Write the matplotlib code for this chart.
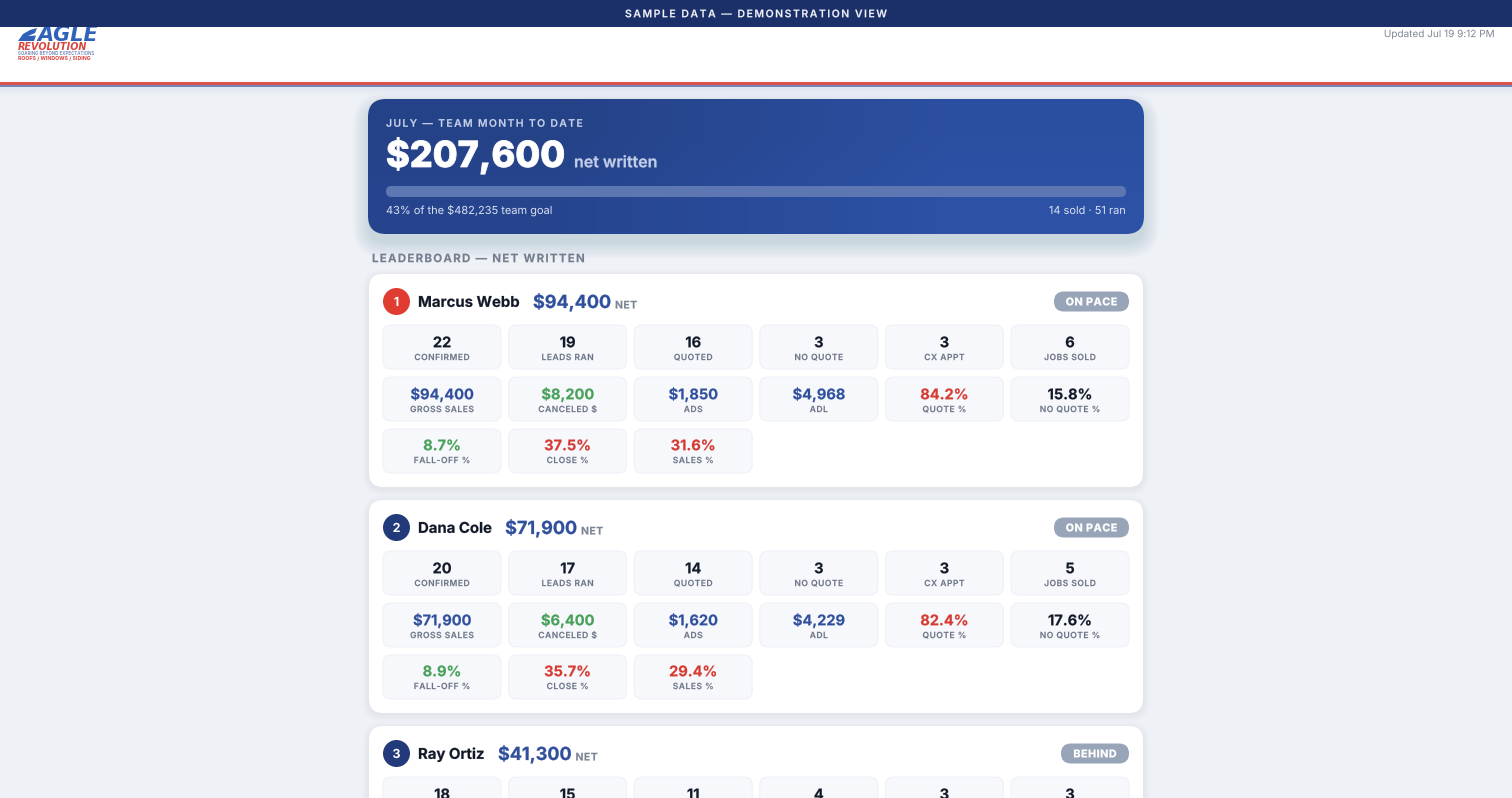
import numpy as np
import matplotlib
matplotlib.use("Agg")
import matplotlib.pyplot as plt
import matplotlib.patheffects as pe
from matplotlib.patches import FancyBboxPatch, Rectangle, Circle, Polygon
from matplotlib.font_manager import FontProperties
from matplotlib.textpath import text_to_path

plt.rcParams['font.family'] = ['Inter', 'DejaVu Sans']

# data
rep_names = ["Marcus Webb", "Dana Cole", "Ray Ortiz"]
rep_net = ["$94,400", "$71,900", "$41,300"]
rep_status = ["ON PACE", "ON PACE", "BEHIND"]

count_labels = ["CONFIRMED", "LEADS RAN", "QUOTED", "NO QUOTE", "CX APPT", "JOBS SOLD"]
money_labels = ["GROSS SALES", "CANCELED $", "ADS", "ADL", "QUOTE %", "NO QUOTE %"]
rate_labels = ["FALL-OFF %", "CLOSE %", "SALES %"]

rep_counts = [
    ["22", "19", "16", "3", "3", "6"],
    ["20", "17", "14", "3", "3", "5"],
    ["18", "15", "11", "4", "3", "3"],
]
rep_money = [
    ["$94,400", "$8,200", "$1,850", "$4,968", "84.2%", "15.8%"],
    ["$71,900", "$6,400", "$1,620", "$4,229", "82.4%", "17.6%"],
]
rep_rates = [
    ["8.7%", "37.5%", "31.6%"],
    ["8.9%", "35.7%", "29.4%"],
]

NAVY = "#1b2f69"
BLUE = "#2f4f9d"
GREEN = "#46a058"
RED = "#d5392f"
INK = "#111827"
money_colors = [BLUE, GREEN, BLUE, BLUE, RED, INK]
rate_colors = [GREEN, RED, RED]

fig = plt.figure(figsize=(15.12, 7.98), dpi=100, facecolor="#eef1f6")
ax = fig.add_axes([0, 0, 1, 1])
ax.set_xlim(0, 1512)
ax.set_ylim(798, 0)
ax.axis('off')


class Soft(pe.AbstractPathEffect):
    # draws glyphs as unsnapped paths, otherwise T, H, L, E come out thinner
    def __init__(self, lw=0.0):
        super().__init__()
        self.lw = lw

    def draw_path(self, renderer, gc, tpath, affine, rgbFace):
        g = renderer.new_gc()
        g.copy_properties(gc)
        g.set_snap(False)
        g.set_linewidth(self.lw)
        g.set_foreground(rgbFace)
        renderer.draw_path(g, tpath, affine, rgbFace)
        g.restore()


def rbox(x0, y0, x1, y1, r, **kw):
    p = FancyBboxPatch((x0 + r, y0 + r), x1 - x0 - 2 * r, y1 - y0 - 2 * r,
                       boxstyle="round,pad=%f,rounding_size=%f" % (r, r), **kw)
    ax.add_patch(p)
    return p


def shadow(x0, y0, x1, y1, r, spread, dy, color, alpha, z):
    for s in np.linspace(spread, 0, 12):
        rbox(x0 - s, y0 - s + dy, x1 + s, y1 + s + dy, r + s, fc=color,
             ec="none", alpha=alpha, zorder=z)


def spaced(x, y, s, size, spacing, color, weight, ha="left", z=10, stroke=0.1):
    # css style letter spacing, mpl has no option for it. y is the middle of the caps
    prop = FontProperties(family="Inter", weight=weight, size=size * 0.72)
    def w(t):
        return text_to_path.get_text_width_height_descent(t, prop, False)[0] * 100 / 72
    total = w(s) + spacing * (len(s) - 1)
    start = x - total / 2 if ha == "center" else x
    for i, ch in enumerate(s):
        if ch != " ":
            ax.text(start + w(s[:i]) + spacing * i, y + 0.36 * size, ch, fontproperties=prop,
                    color=color, va="baseline", ha="left", zorder=z,
                    path_effects=[Soft(stroke)])


def label(x, y, s, size, color, weight=400, ha="left", z=10, stroke=0.0):
    return ax.text(x, y + 0.36 * size, s, fontsize=size * 0.72, color=color, fontweight=weight,
                   ha=ha, va="baseline", zorder=z, path_effects=[Soft(stroke)])


# page header
ax.add_patch(Rectangle((0, 27), 1512, 55, fc="white", ec="none", zorder=1))
ax.imshow(np.array([[[0.886, 0.906, 0.945, 1]], [[0.933, 0.945, 0.965, 1]]]),
          extent=[0, 1512, 98, 86], aspect="auto", zorder=0.5, interpolation="bilinear")
ax.add_patch(Rectangle((0, 82), 1512, 3, fc="#d9504f", ec="none", zorder=2))
ax.add_patch(Rectangle((0, 85), 1512, 1.6, fc="#7584b8", ec="none", zorder=2))
ax.add_patch(Rectangle((0, 0), 1512, 27, fc=NAVY, ec="none", zorder=20))
spaced(756, 13.5, "SAMPLE DATA — DEMONSTRATION VIEW", 10.5, 1.5, "#f2f4fa", 600, ha="center", z=21)
label(1494, 33.5, "Updated Jul 19 9:12 PM", 10, "#7f8794", ha="right", z=3)

# logo, top is cut by the banner
ax.add_patch(Polygon([[18, 41], [23, 34], [30, 30], [37, 28], [35, 33], [28, 36], [36, 35.5], [34, 41]],
                     fc="#2f62b8", ec="none", zorder=3))
ax.text(37, 41, "AGLE", fontsize=15, fontstyle="oblique", fontweight="bold", color="#2f62b8",
        family="DejaVu Sans", ha="left", va="baseline", zorder=3)
ax.text(18, 50, "REVOLUTION", fontsize=6.9, fontstyle="oblique", fontweight="bold", color="#d8453f",
        family="DejaVu Sans", ha="left", va="baseline", zorder=3)
ax.text(18, 55, "SOARING BEYOND EXPECTATIONS", fontsize=3.2, fontweight=600, color="#6f83b5",
        ha="left", va="baseline", zorder=3)
ax.text(18, 60, "ROOFS / WINDOWS / SIDING", fontsize=3.75, fontweight=700, color="#d8453f",
        ha="left", va="baseline", zorder=3)

# hero card
shadow(368, 99, 1144, 234, 18, 15, 9, "#23427f", 0.010, 3)
hero_patch = rbox(368, 99, 1144, 234, 18, fc="none", ec="none", zorder=4)
grad = np.array([[[0.145, 0.26, 0.53], [0.17, 0.31, 0.63]],
                 [[0.15, 0.27, 0.56], [0.175, 0.32, 0.65]]])
im = ax.imshow(grad, extent=[368, 1144, 234, 99], aspect="auto", zorder=4, interpolation="bilinear")
im.set_clip_path(hero_patch)
ax.set_xlim(0, 1512)
ax.set_ylim(798, 0)

spaced(386, 123, "JULY — TEAM MONTH TO DATE", 10.5, 1.3, "#c9d4ec", 600)
label(386, 154, "$207,600", 36, "white", 800, stroke=0.6)
label(574, 161.5, "net written", 16, "#c3cfe8", 600, stroke=0.2)
rbox(386, 186, 1126, 197, 5.5, fc="#5c77b2", ec="none", zorder=5)
label(386, 210, "43% of the $482,235 team goal", 11, "#dbe3f3")
label(1126, 210, "14 sold · 51 ran", 11, "#dbe3f3", ha="right")

spaced(372, 258, "LEADERBOARD — NET WRITTEN", 11.5, 1.25, "#737c8d", 700, z=5)

# leaderboard cards
tile_x = [383, 508.6, 634.2, 759.8, 885.4, 1011]
tile_w = 118
row_off = [51, 103, 155]
val_off = [17, 17, 16]
lab_off = [32, 32, 31]
for n, name in enumerate(rep_names):
    top = 274 + 226 * n
    shadow(369, top, 1143, top + 213, 14, 7, 2, "#5a6a90", 0.005, 5)
    rbox(369, top, 1143, top + 213, 14, fc="white", ec="none", zorder=6)

    cy = top + 27.5
    ax.add_patch(Circle((396.5, cy), 13.5, fc="#e03c31" if n == 0 else "#223a7a", ec="none", zorder=7))
    label(396.5, cy, str(n + 1), 12.5, "white", 700, ha="center")
    nm = label(418, cy, name, 14.9, INK, 700, stroke=0.15)
    nm_end = nm.get_window_extent(fig.canvas.get_renderer()).x1
    net = label(nm_end + 13.5, cy, rep_net[n], 18, BLUE, 700, stroke=0.2)
    net_end = net.get_window_extent(fig.canvas.get_renderer()).x1
    spaced(net_end + 4, cy + 3.2, "NET", 10.5, 0.4, "#7b8494", 700)

    pw = 75 if rep_status[n] == "ON PACE" else 68
    rbox(1129 - pw, cy - 10, 1129, cy + 10, 10, fc="#98a4b8", ec="none", zorder=7)
    spaced(1129 - pw / 2, cy, rep_status[n], 10.8, 0.45, "white", 800, ha="center")

    rows = [(rep_counts[n], count_labels, [INK] * 6)]
    if n < len(rep_money):
        rows.append((rep_money[n], money_labels, money_colors))
        rows.append((rep_rates[n], rate_labels, rate_colors))
    for r, (vals, labs, cols) in enumerate(rows):
        ty = top + row_off[r]
        for c, v in enumerate(vals):
            rbox(tile_x[c], ty, tile_x[c] + tile_w, ty + 44, 8, fc="#f7f8fc", ec="#eef0f6", lw=0.7, zorder=7)
            label(tile_x[c] + tile_w / 2, ty + val_off[r], v, 14.6, cols[c], 700, ha="center", stroke=0.15)
            spaced(tile_x[c] + tile_w / 2, ty + lab_off[r], labs[c], 8.5, 0.5, "#6b7486", 600, ha="center")

fig.savefig("out.png", dpi=100)
